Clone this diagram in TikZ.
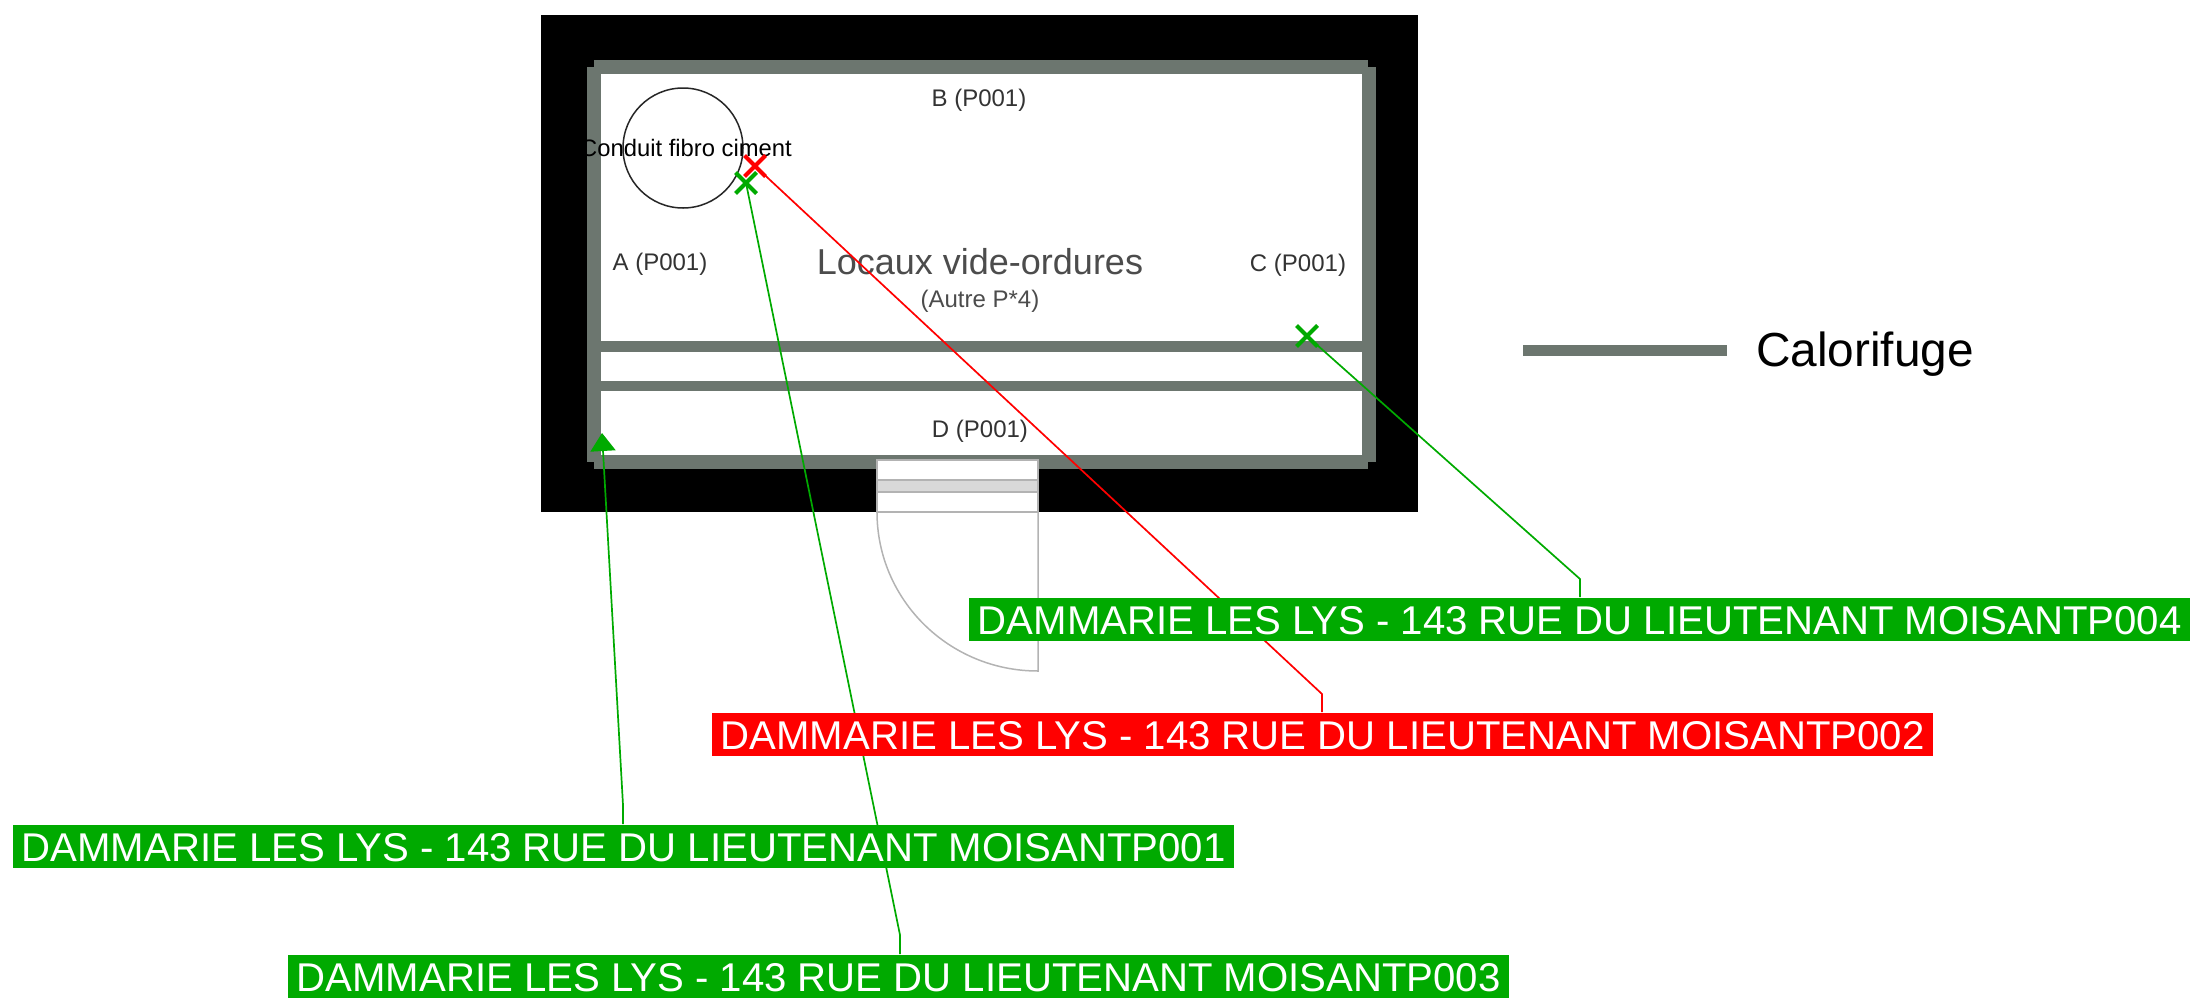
\documentclass[tikz,border=0pt]{standalone}
\usepackage{fontspec}
\setmainfont{Liberation Sans}
\usetikzlibrary{arrows.meta,backgrounds,shapes.misc}
\definecolor{calo}{HTML}{6C766F}
\definecolor{okgreen}{HTML}{00AA00}
\definecolor{doorline}{HTML}{B3B3B3}
\tikzset{
	calobar/.style = {draw = calo, line width = 7pt},
	caloline/.style = {draw = calo, line width = 5.25pt},
	doorpart/.style = {draw = doorline, line width = 0.75pt},
	tag/.style = {anchor = south west, text = white, font = \fontsize{20.07}{24}\selectfont, inner xsep = 4.2pt, inner ysep = 0pt, text height = 18.5pt, text depth = 3pt},
	lead/.style = {line width = 0.85pt},
	cross/.style = {cross out, draw = #1, line width = 2pt, minimum size = 8.5pt, inner sep = 0pt},
	wall/.style = {anchor = base, text = black!80, font = \fontsize{12}{14}\selectfont, inner sep = 0pt}
}
\begin{document}
\begin{tikzpicture}[x = 0.5pt, y = -0.5pt]
	\useasboundingbox (0, 0) rectangle (2191, 997);
	
	\node [tag, fill = okgreen] (p4) at (969, 641) {DAMMARIE LES LYS - 143 RUE DU LIEUTENANT MOISANTP004};
	\node [tag, fill = red] (p2) at (712, 756) {DAMMARIE LES LYS - 143 RUE DU LIEUTENANT MOISANTP002};
	\node [tag, fill = okgreen] (p1) at (13, 868) {DAMMARIE LES LYS - 143 RUE DU LIEUTENANT MOISANTP001};
	\node [tag, fill = okgreen] (p3) at (288, 998) {DAMMARIE LES LYS - 143 RUE DU LIEUTENANT MOISANTP003};
	
	\begin{scope}[on background layer]
		\fill [black] (541, 15) rectangle (1418, 512);
		\fill [white] (598, 71) rectangle (1365, 458);
		
		\draw [calobar] (594, 67) -- (1368, 67);
		\draw [calobar] (594, 461.5) -- (1368, 461.5);
		\draw [calobar] (594, 67) -- (594, 461.5);
		\draw [calobar] (1368.5, 67) -- (1368.5, 461.5);
		\draw [caloline] (601, 346.5) -- (1362, 346.5);
		\draw [caloline] (601, 386) -- (1362, 386);
		
		\draw [doorpart, fill = white] (877, 460) rectangle (1038, 512);
		\draw [doorpart, fill = black!15] (877, 480) rectangle (1038, 492);
		\draw [doorpart] (877, 512) .. controls (877, 600) and (949, 671) .. (1038, 671) -- (1038, 512);
		
		\node [circle, draw = black!85, line width = 0.75pt, minimum size = 60pt, inner sep = 0pt] (conduit) at (683, 148) {};
		\node [wall, text = black] (fibro) at (686, 156) {\fontsize{11.9}{14}\selectfont Conduit fibro ciment};
		\node [wall] (fa) at (660, 270) {A (P001)};
		\node [wall] (fb) at (979, 106) {B (P001)};
		\node [wall] (fc) at (1298, 271) {C (P001)};
		\node [wall] (fd) at (980, 437) {D (P001)};
		\node [wall, text = black!70, font = \fontsize{18}{22}\selectfont] (room) at (980, 274) {Locaux vide-ordures};
		\node [wall, text = black!70] (rtype) at (980, 307) {(Autre P*4)};
		
		\node [cross = okgreen] (x4) at (1307, 336) {};
		\node [cross = red] (x2) at (755, 166) {};
		\node [cross = okgreen] (x3) at (746, 183) {};
		\coordinate (tip1) at (602, 433);
		
		\coordinate (b4) at (1580, 579);
		\coordinate (b2) at (1322, 694);
		\coordinate (b3) at (900, 935);
		\coordinate (b1) at (623, 805);
		\draw [lead, draw = okgreen] (p4.north -| b4) -- (b4) -- (x4.center);
		\draw [lead, draw = red] (p2.north -| b2) -- (b2) -- (x2.center);
		\draw [lead, draw = okgreen] (p3.north -| b3) -- (b3) -- (x3.center);
		\draw [lead, draw = okgreen, -{Triangle[width = 12.5pt, length = 9pt]}] (p1.north -| b1) -- (b1) -- (tip1);
		
		\coordinate (ka) at (1523, 350.5);
		\coordinate (kb) at (1727, 350.5);
		\draw [caloline] (ka) -- (kb);
		\node [wall, text = black, font = \fontsize{23.9}{28}\selectfont] (calokey) at (1865, 366) {Calorifuge};
	\end{scope}
\end{tikzpicture}
\end{document}
